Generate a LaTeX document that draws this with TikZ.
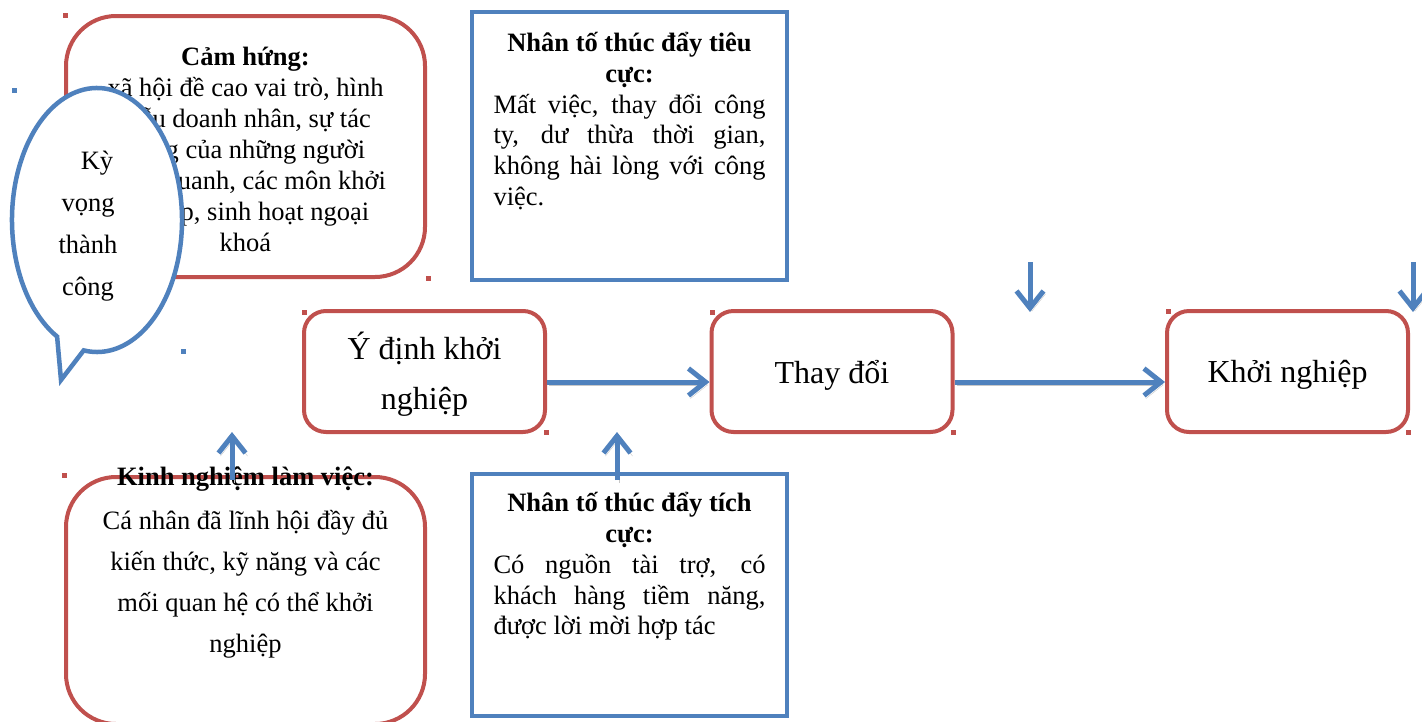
\documentclass[tikz,border=0pt]{standalone}
\usepackage{fontspec}
\setmainfont{Liberation Serif}
\usetikzlibrary{arrows.meta}
\definecolor{boxred}{HTML}{C0504D}
\definecolor{boxblue}{HTML}{4F81BD}
\definecolor{shade}{HTML}{C8C8C8}
\tikzset{
  redbox/.style={draw=boxred, line width=4pt, rounded corners=22pt, inner sep=0pt},
  bigredbox/.style={draw=boxred, line width=4pt, rounded corners=50pt, inner sep=0pt},
  bluebox/.style={draw=boxblue, line width=4.5pt, inner sep=0pt},
  bodytext/.style={font=\fontsize{26.5}{31}\selectfont, align=center, inner sep=0pt},
  stagebox/.style={redbox, minimum width=241pt, minimum height=121pt},
  stagetext/.style={font=\fontsize{32}{50}\selectfont, align=center, inner sep=0pt},
  flowarrow/.style={draw=boxblue, line width=5pt, -{Straight Barb[length=17pt,width=27pt]},
    preaction={draw=shade, transform canvas={xshift=2pt,yshift=-3pt}}},
  selmark/.style={fill, minimum size=5pt, inner sep=0pt, outer sep=0pt},
}
\begin{document}
\begin{tikzpicture}[x=1pt,y=-1pt]
\useasboundingbox (0,0) rectangle (1422,721);
\clip (0,0) rectangle (1422,721);
\fill[white] (0,0) rectangle (1422,721);

% Inspiration box
\node[bigredbox, minimum width=359pt, minimum height=261pt] (insp) at (245.5,146.5) {};
\node[bodytext] (insptext) at (245.5,149.5)
  {\textbf{Cảm hứng:}\\xã hội đề cao vai trò, hình\\mẫu doanh nhân, sự tác\\động của những người\\xung quanh, các môn khởi\\nghiệp, sinh hoạt ngoại\\khoá};

% Speech bubble
\draw[draw=boxblue, line width=4.5pt, fill=white, line join=miter]
  (97,220) ++(118:85 and 132) arc[start angle=118, end angle=459, x radius=85, y radius=132]
  -- (61,380) -- cycle;
\node[bodytext, font=\fontsize{26.5}{42}\selectfont] (hope) at (88,226)
  {\hspace*{18pt}Kỳ\\vọng\\thành\\công};

% Negative factors
\node[bluebox, minimum width=315pt, minimum height=268pt] (neg) at (629.5,146) {};
\node[bodytext, font=\fontsize{26.5}{30.7}\selectfont] (negtext) at (629.5,121)
  {\textbf{Nhân tố thúc đẩy tiêu}\\\textbf{cực:}\\
   \makebox[272pt][s]{Mất việc, thay đổi công}\\
   \makebox[272pt][s]{ty, dư thừa thời gian,}\\
   \makebox[272pt][s]{không hài lòng với công}\\
   \makebox[272pt][l]{việc.}};

% Positive factors
\node[bluebox, minimum width=315pt, minimum height=242pt] (pos) at (629.5,595) {};
\node[bodytext, font=\fontsize{26.5}{30.7}\selectfont] (postext) at (629.5,566.5)
  {\textbf{Nhân tố thúc đẩy tích}\\\textbf{cực:}\\
   \makebox[272pt][s]{Có nguồn tài trợ, có}\\
   \makebox[272pt][s]{khách hàng tiềm năng,}\\
   \makebox[272pt][l]{được lời mời hợp tác}};

% Work experience
\node[bigredbox, minimum width=359pt, minimum height=247pt] (exp) at (245.5,600.5) {};
\node[bodytext, font=\fontsize{26.5}{41}\selectfont] (exptext) at (245.5,562.5)
  {\textbf{Kinh nghiệm làm việc:}\\[3pt]Cá nhân đã lĩnh hội đầy đủ\\kiến thức, kỹ năng và các\\mối quan hệ có thể khởi\\nghiệp};

% Stages
\node[stagebox] (idea) at (424.5,371.5) {};
\node[stagebox] (change) at (832,371.5) {};
\node[stagebox] (startup) at (1287.5,371.5) {};
\node[stagetext] (ideatext) at ([yshift=-3pt]idea.center) {Ý định khởi\\nghiệp};
\node[stagetext] (changetext) at ([yshift=-3.5pt]change.center) {Thay đổi};
\node[stagetext] (startuptext) at ([yshift=-3.5pt]startup.center) {Khởi nghiệp};

% Horizontal arrows
\draw[flowarrow] ([yshift=-10.5pt]idea.east) -- ([yshift=-10.5pt]change.west);
\draw[flowarrow] ([yshift=-10.5pt]change.east) -- ([yshift=-10.5pt]startup.west);

% Vertical arrows
\coordinate (d1s) at (1030,262); \coordinate (d1e) at (1030,312);
\coordinate (d2s) at (1413,262); \coordinate (d2e) at (1413,312);
\coordinate (u1s) at (232,480); \coordinate (u1e) at (232,432);
\coordinate (u2s) at (617,480); \coordinate (u2e) at (617,432);
\draw[flowarrow] (d1s) -- (d1e);
\draw[flowarrow] (d2s) -- (d2e);
\draw[flowarrow] (u1s) -- (u1e);
\draw[flowarrow] (u2s) -- (u2e);

% Selection marks
\node[selmark, boxred] (m1) at (65,15) {};
\node[selmark, boxred] (m2) at (428,278) {};
\node[selmark, boxblue] (m3) at (14,90) {};
\node[selmark, boxblue] (m4) at (183,351) {};
\node[selmark, boxred] (m5) at (64,475) {};
\node[selmark, boxred] (m6) at (304,312) {};
\node[selmark, boxred] (m7) at (546,432) {};
\node[selmark, boxred] (m8) at (712,312) {};
\node[selmark, boxred] (m9) at (953,432) {};
\node[selmark, boxred] (m10) at (1168,311) {};
\node[selmark, boxred] (m11) at (1408,432) {};
\end{tikzpicture}
\end{document}
